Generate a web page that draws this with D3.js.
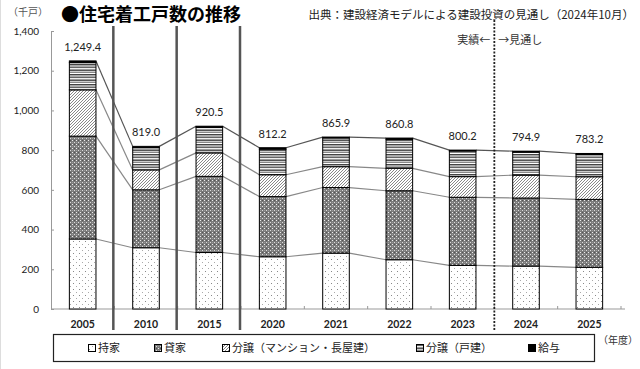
<!DOCTYPE html>
<html>
<head>
<meta charset="utf-8">
<script src="https://cdn.jsdelivr.net/npm/d3@7"></script>
<style>
  body { margin: 0; background: #fff; }
  svg { display: block; }
  .jp { font-family: "Noto Sans CJK JP", sans-serif; }
  .num { font-family: Lato, "Liberation Sans", sans-serif; }
</style>
</head>
<body>
<div id="chart"></div>
<script>
// 年度
const years = ['2005', '2010', '2015', '2020', '2021', '2022', '2023', '2024', '2025'];

// 千戸
const mochiie = [352.6, 308.5, 284.4, 263.1, 281.3, 248.1, 219.6, 216.0, 210.0];
const kashiya = [518.0, 291.8, 383.7, 303.0, 330.4, 347.4, 343.0, 343.0, 342.0];
const bunjoMansion = [233.0, 100.2, 118.0, 110.0, 105.0, 113.0, 104.0, 115.0, 114.0];
const bunjoKodate = [137.0, 112.0, 128.6, 129.0, 144.6, 146.1, 129.0, 116.0, 112.5];
const kyuyo = [8.8, 6.5, 5.8, 7.1, 4.6, 6.2, 4.6, 4.9, 4.7];

const yTicks = [0, 200, 400, 600, 800, 1000, 1200, 1400];

const seriesNames = ['持家', '貸家', '分譲（マンション・長屋建）', '分譲（戸建）', '給与'];
const keys = ['mochiie', 'kashiya', 'mansion', 'kodate', 'kyuyo'];

const width = 640;
const height = 369;

const rows = years.map((y, i) => ({
  year: y,
  mochiie: mochiie[i],
  kashiya: kashiya[i],
  mansion: bunjoMansion[i],
  kodate: bunjoKodate[i],
  kyuyo: kyuyo[i]
}));

const svg = d3.select('#chart').append('svg')
  .attr('width', width)
  .attr('height', height);

// patterns
const defs = svg.append('defs');

let p = defs.append('pattern').attr('id', 'pt-mochiie')
  .attr('patternUnits', 'userSpaceOnUse').attr('width', 6).attr('height', 6);
p.append('rect').attr('width', 6).attr('height', 6).attr('fill', '#fff');
p.append('rect').attr('x', 1).attr('y', 1).attr('width', 1).attr('height', 1).attr('fill', '#888');
p.append('rect').attr('x', 4).attr('y', 4).attr('width', 1).attr('height', 1).attr('fill', '#aaa');

p = defs.append('pattern').attr('id', 'pt-kashiya')
  .attr('patternUnits', 'userSpaceOnUse').attr('width', 4).attr('height', 4);
p.append('rect').attr('width', 4).attr('height', 4).attr('fill', '#7a7a7a');
p.append('rect').attr('x', 0).attr('y', 0).attr('width', 1).attr('height', 1).attr('fill', '#eee');
p.append('rect').attr('x', 2).attr('y', 2).attr('width', 1).attr('height', 1).attr('fill', '#ddd');
p.append('rect').attr('x', 2).attr('y', 0).attr('width', 1).attr('height', 1).attr('fill', '#555');
p.append('rect').attr('x', 0).attr('y', 2).attr('width', 1).attr('height', 1).attr('fill', '#999');

p = defs.append('pattern').attr('id', 'pt-mansion')
  .attr('patternUnits', 'userSpaceOnUse').attr('width', 3).attr('height', 3);
p.append('rect').attr('width', 3).attr('height', 3).attr('fill', '#fff');
p.append('path').attr('d', 'M-1,1 L1,-1 M0,3 L3,0 M2,4 L4,2')
  .attr('stroke', '#555').attr('stroke-width', 0.7);

const stripeColors = ['#555', '#ccc', '#888', '#fff', '#444', '#aaa', '#aaa', '#666', '#eee', '#999'];
p = defs.append('pattern').attr('id', 'pt-kodate')
  .attr('patternUnits', 'userSpaceOnUse').attr('width', 4).attr('height', stripeColors.length);
stripeColors.forEach((c, i) => {
  p.append('rect').attr('x', 0).attr('y', i).attr('width', 4).attr('height', 1).attr('fill', c);
});

const fills = {
  mochiie: 'url(#pt-mochiie)',
  kashiya: 'url(#pt-kashiya)',
  mansion: 'url(#pt-mansion)',
  kodate: 'url(#pt-kodate)',
  kyuyo: '#000'
};

// scales
const x = d3.scaleBand().domain(years).range([51, 621]).paddingInner(0.58).paddingOuter(0.29);
const y = d3.scaleLinear().domain([0, 1400]).range([309, 31]);
const step = x.step();
const boundary = (i) => x.range()[0] + i * step - 1;

const stacked = d3.stack().keys(keys)(rows);

// left frame
svg.append('line').attr('x1', 0.5).attr('x2', 0.5).attr('y1', 0).attr('y2', height)
  .attr('stroke', '#ddd');

// axes
const yAxis = d3.axisLeft(y).tickValues(yTicks).tickSize(-3).tickPadding(12)
  .tickFormat(d3.format(','));
const gy = svg.append('g').attr('transform', 'translate(51,0)').call(yAxis);
gy.select('.domain').attr('stroke', '#999');
gy.selectAll('.tick line').attr('stroke', '#999');
gy.selectAll('text').attr('class', 'num').attr('font-size', 10).attr('fill', '#222');

const gx = svg.append('g').attr('transform', 'translate(0,309)');
gx.append('line').attr('x1', 51).attr('x2', 625).attr('stroke', '#999');
gx.selectAll('line.minor').data(d3.range(1, 10)).join('line')
  .attr('x1', (i) => x.range()[0] + i * step).attr('x2', (i) => x.range()[0] + i * step)
  .attr('y1', 0).attr('y2', -3).attr('stroke', '#999');
gx.selectAll('text').data(years).join('text')
  .attr('class', 'num')
  .attr('x', (d) => x(d) + x.bandwidth() / 2)
  .attr('y', 19)
  .attr('text-anchor', 'middle')
  .attr('font-size', 10.5)
  .attr('font-weight', 'bold')
  .attr('fill', '#222')
  .text((d) => d);

// connecting lines between bars
const cumLevels = [0, 1, 2, 4];
const lines = svg.append('g');
cumLevels.forEach((k) => {
  for (let i = 0; i < years.length - 1; i++) {
    lines.append('line')
      .attr('x1', x(years[i]) + x.bandwidth())
      .attr('y1', y(stacked[k][i][1]))
      .attr('x2', x(years[i + 1]))
      .attr('y2', y(stacked[k][i + 1][1]))
      .attr('stroke', k === 4 ? '#555' : '#888')
      .attr('stroke-width', 1.2);
  }
});

// bars
svg.append('g').selectAll('g').data(stacked).join('g')
  .attr('fill', (s) => fills[s.key])
  .selectAll('rect').data((s) => s).join('rect')
  .attr('x', (d) => x(d.data.year))
  .attr('y', (d) => y(d[1]))
  .attr('width', x.bandwidth())
  .attr('height', (d) => y(d[0]) - y(d[1]))
  .attr('stroke', '#000')
  .attr('stroke-width', 1);

// total labels
const totalFormat = d3.format(',.1f');
svg.append('g').selectAll('text').data(stacked[4]).join('text')
  .attr('class', 'num')
  .attr('x', (d) => x(d.data.year) + x.bandwidth() / 2)
  .attr('y', (d) => y(d[1]) - 10)
  .attr('text-anchor', 'middle')
  .attr('font-size', 11)
  .attr('fill', '#222')
  .text((d) => totalFormat(d[1]));

// period separators
[1, 2, 3].forEach((i) => {
  svg.append('line')
    .attr('x1', boundary(i)).attr('x2', boundary(i))
    .attr('y1', 26).attr('y2', 330)
    .attr('stroke', '#555').attr('stroke-width', 2.5);
});

// actual / forecast divider
const divX = boundary(7) + 1;
svg.append('line')
  .attr('x1', divX).attr('x2', divX)
  .attr('y1', 20).attr('y2', 330)
  .attr('stroke', '#222').attr('stroke-width', 1.8)
  .attr('stroke-dasharray', '2,1.5');
svg.append('text').attr('class', 'jp')
  .attr('x', divX - 4).attr('y', 44).attr('text-anchor', 'end')
  .attr('font-size', 11).attr('fill', '#333').text('実績←');
svg.append('text').attr('class', 'jp')
  .attr('x', divX + 4).attr('y', 44)
  .attr('font-size', 11).attr('fill', '#333').text('→見通し');

// titles
svg.append('text').attr('class', 'jp')
  .attr('x', 8).attr('y', 16).attr('font-size', 10).attr('fill', '#555').text('（千戸）');
svg.append('text').attr('class', 'jp')
  .attr('x', 61).attr('y', 21).attr('font-size', 18).attr('font-weight', 'bold')
  .attr('fill', '#000').text('●住宅着工戸数の推移');
svg.append('text').attr('class', 'jp')
  .attr('x', 634).attr('y', 19).attr('text-anchor', 'end')
  .attr('font-size', 11.5).attr('fill', '#222')
  .text('出典：建設経済モデルによる建設投資の見通し（2024年10月）');
svg.append('text').attr('class', 'jp')
  .attr('x', 638).attr('y', 344).attr('text-anchor', 'end')
  .attr('font-size', 10).attr('fill', '#333').text('（年度）');

// legend
const legendX = [88, 154, 222, 416, 528];
const legend = svg.append('g');
legend.append('rect')
  .attr('x', 53.5).attr('y', 334.5).attr('width', 541).attr('height', 27)
  .attr('fill', '#fff').attr('stroke', '#222').attr('stroke-width', 1.2);
const items = legend.selectAll('g.item').data(keys).join('g')
  .attr('transform', (d, i) => 'translate(' + legendX[i] + ',348)');
items.append('rect')
  .attr('x', 0.5).attr('y', -3.5).attr('width', 7).attr('height', 7)
  .attr('fill', (d) => fills[d]).attr('stroke', '#000');
items.append('text').attr('class', 'jp')
  .attr('x', 10).attr('y', 4)
  .attr('font-size', 11).attr('fill', '#222')
  .text((d, i) => seriesNames[i]);
</script>
</body>
</html>
